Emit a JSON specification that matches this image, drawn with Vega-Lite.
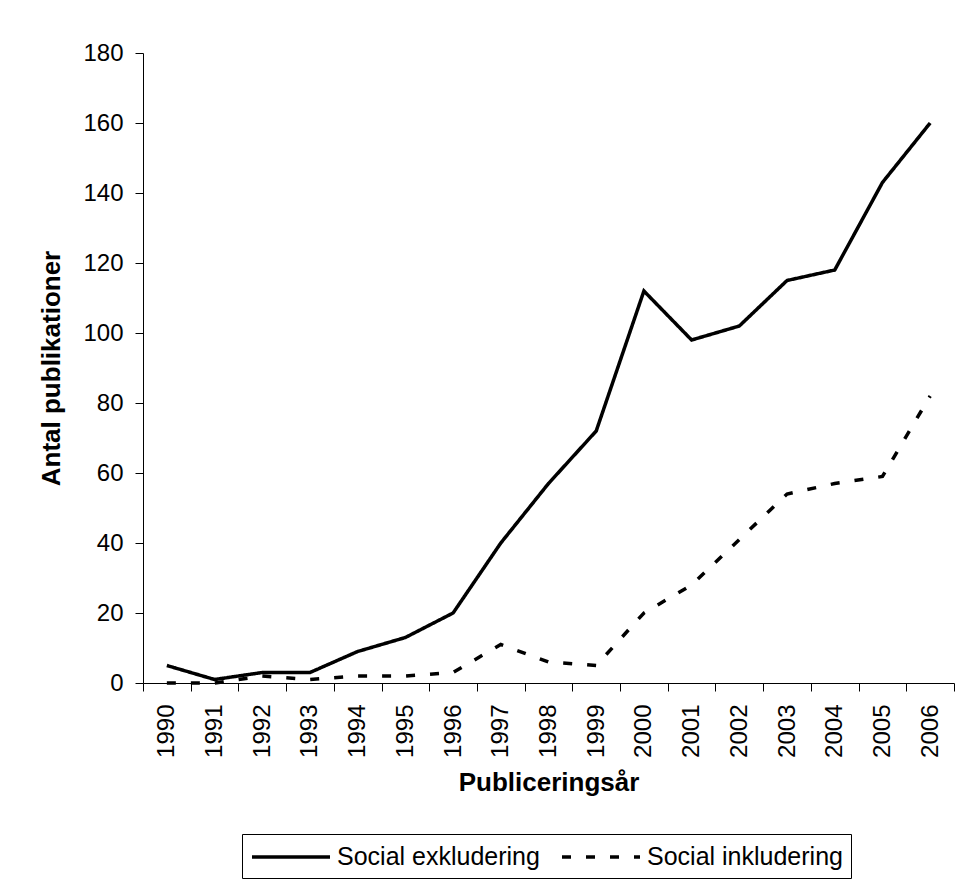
{
  "$schema": "https://vega.github.io/schema/vega-lite/v6.json",
  "width": 811,
  "height": 630,
  "autosize": {"type": "none"},
  "padding": {"left": 143, "top": 53, "right": 3, "bottom": 200},
  "background": "white",
  "config": {
    "view": {"stroke": null},
    "font": "Liberation Sans",
    "axis": {
      "domainColor": "black",
      "domainWidth": 1,
      "tickColor": "black",
      "tickSize": 8,
      "labelColor": "black",
      "titleColor": "black",
      "labelFont": "Liberation Sans",
      "titleFont": "Liberation Sans",
      "labelFontSize": 24,
      "titleFontSize": 26,
      "titleFontWeight": "bold",
      "grid": false
    }
  },
  "data": {
    "values": [
      {"year": "1990", "series": "Social exkludering", "value": 5},
      {"year": "1991", "series": "Social exkludering", "value": 1},
      {"year": "1992", "series": "Social exkludering", "value": 3},
      {"year": "1993", "series": "Social exkludering", "value": 3},
      {"year": "1994", "series": "Social exkludering", "value": 9},
      {"year": "1995", "series": "Social exkludering", "value": 13},
      {"year": "1996", "series": "Social exkludering", "value": 20},
      {"year": "1997", "series": "Social exkludering", "value": 40},
      {"year": "1998", "series": "Social exkludering", "value": 57},
      {"year": "1999", "series": "Social exkludering", "value": 72},
      {"year": "2000", "series": "Social exkludering", "value": 112},
      {"year": "2001", "series": "Social exkludering", "value": 98},
      {"year": "2002", "series": "Social exkludering", "value": 102},
      {"year": "2003", "series": "Social exkludering", "value": 115},
      {"year": "2004", "series": "Social exkludering", "value": 118},
      {"year": "2005", "series": "Social exkludering", "value": 143},
      {"year": "2006", "series": "Social exkludering", "value": 160},
      {"year": "1990", "series": "Social inkludering", "value": 0},
      {"year": "1991", "series": "Social inkludering", "value": 0},
      {"year": "1992", "series": "Social inkludering", "value": 2},
      {"year": "1993", "series": "Social inkludering", "value": 1},
      {"year": "1994", "series": "Social inkludering", "value": 2},
      {"year": "1995", "series": "Social inkludering", "value": 2},
      {"year": "1996", "series": "Social inkludering", "value": 3},
      {"year": "1997", "series": "Social inkludering", "value": 11},
      {"year": "1998", "series": "Social inkludering", "value": 6},
      {"year": "1999", "series": "Social inkludering", "value": 5},
      {"year": "2000", "series": "Social inkludering", "value": 20},
      {"year": "2001", "series": "Social inkludering", "value": 28},
      {"year": "2002", "series": "Social inkludering", "value": 41},
      {"year": "2003", "series": "Social inkludering", "value": 54},
      {"year": "2004", "series": "Social inkludering", "value": 57},
      {"year": "2005", "series": "Social inkludering", "value": 59},
      {"year": "2006", "series": "Social inkludering", "value": 82}
    ]
  },
  "mark": {"type": "line", "color": "black", "strokeWidth": 3.5},
  "encoding": {
    "x": {
      "field": "year",
      "type": "ordinal",
      "scale": {"type": "band", "paddingInner": 0, "paddingOuter": 0},
      "axis": {
        "title": "Publiceringsår",
        "labelAngle": -90,
        "tickBand": "extent",
        "labelPadding": 13,
        "titlePadding": 12
      }
    },
    "y": {
      "field": "value",
      "type": "quantitative",
      "scale": {"domain": [0, 180], "nice": false},
      "axis": {
        "title": "Antal publikationer",
        "values": [0, 20, 40, 60, 80, 100, 120, 140, 160, 180],
        "labelPadding": 12,
        "titlePadding": 18
      }
    },
    "strokeDash": {
      "field": "series",
      "type": "nominal",
      "scale": {
        "domain": ["Social exkludering", "Social inkludering"],
        "range": [[1, 0], [9, 15]]
      },
      "legend": {
        "title": null,
        "orient": "none",
        "legendX": 99,
        "legendY": 781,
        "direction": "horizontal",
        "strokeColor": "black",
        "fillColor": "white",
        "padding": 8,
        "symbolType": "M-1,0H5",
        "symbolSize": 676,
        "symbolStrokeWidth": 3.5,
        "symbolStrokeColor": "black",
        "labelFontSize": 25,
        "labelColor": "black",
        "labelLimit": 400,
        "labelOffset": 57,
        "columnPadding": 15
      }
    }
  }
}
